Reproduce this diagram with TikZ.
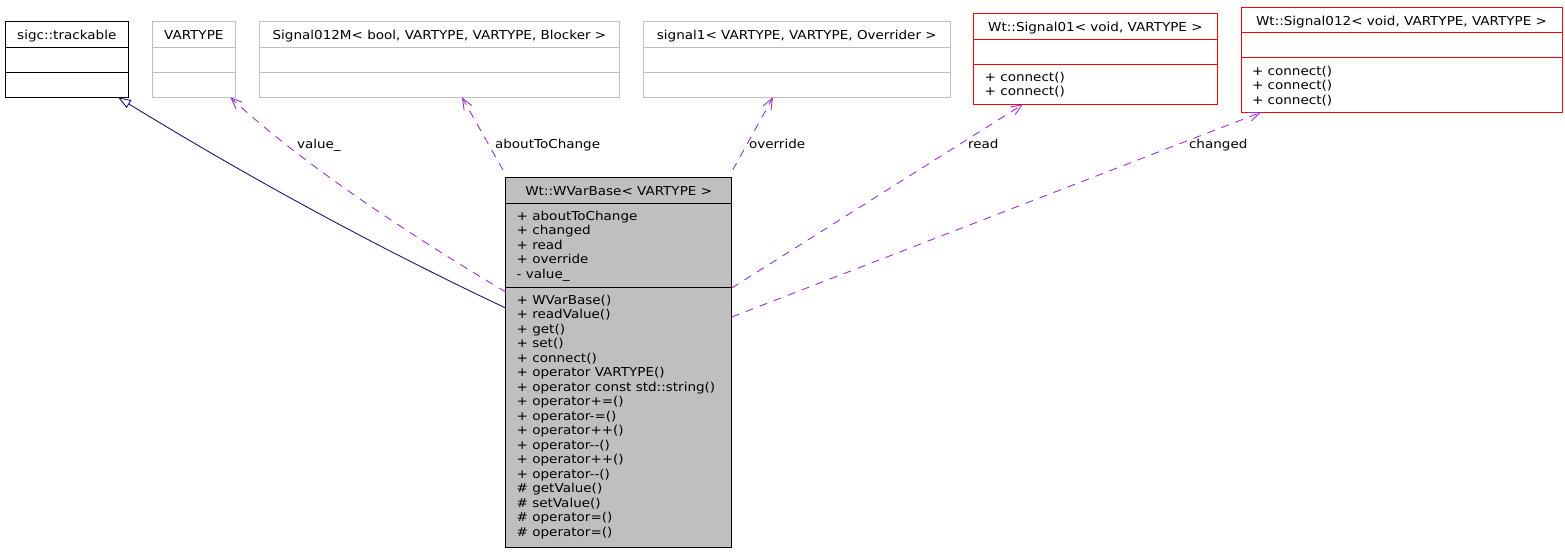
\documentclass[tikz,border=0pt]{standalone}
\usepackage{fontspec}
\setmainfont{DejaVu Sans}[FakeStretch=1.1]
\usetikzlibrary{arrows.meta}
\definecolor{boxgray}{HTML}{BFBFBF}
\definecolor{usecol}{HTML}{9A32CD}
\definecolor{inhcol}{HTML}{191970}
\newcommand\dm{-\kern0pt-}
\begin{document}
\begin{tikzpicture}[x=1pt,y=-1pt,
  every node/.style={font=\fontsize{12.3}{14.5}\selectfont, inner sep=0pt, outer sep=0pt},
  cls/.style={draw, line width=1pt, rectangle, anchor=north west, inner sep=0pt},
  ttl/.style={anchor=base},
  lbl/.style={anchor=base west},
  div/.style={line width=1pt},
  use/.style={draw=usecol, line width=0.9pt, dash pattern=on 8pt off 7pt,
    -{Straight Barb[length=11pt,width=9pt]}},
  inh/.style={draw=inhcol, line width=0.9pt,
    -{Triangle[open,length=13pt,width=9pt,fill=white]}}
]
\useasboundingbox[fill=white] (0,0) rectangle (1565,552);

% sigc::trackable
\node[cls, draw=black, minimum width=123pt, minimum height=75.6pt] (track) at (5.3,21.7) {};
\draw[div, black] (5.3,47.3) -- (128.3,47.3) (5.3,72.3) -- (128.3,72.3);
\node[ttl] (trackt) at (66.8,39.2) {sigc::trackable};

% VARTYPE
\node[cls, draw=boxgray, minimum width=83pt, minimum height=75.6pt] (vartype) at (152.3,21.7) {};
\draw[div, boxgray] (152.3,47.3) -- (235.3,47.3) (152.3,72.3) -- (235.3,72.3);
\node[ttl] (vartypet) at (193.8,39.2) {VARTYPE};

% Signal012M
\node[cls, draw=boxgray, minimum width=360.2pt, minimum height=75.6pt] (sigm) at (259.3,21.7) {};
\draw[div, boxgray] (259.3,47.3) -- (619.5,47.3) (259.3,72.3) -- (619.5,72.3);
\node[ttl] (sigmt) at (439.4,39.2) {Signal012M< bool, VARTYPE, VARTYPE, Blocker >};

% signal1
\node[cls, draw=boxgray, minimum width=306.5pt, minimum height=75.6pt] (sigone) at (643.5,21.7) {};
\draw[div, boxgray] (643.5,47.3) -- (950,47.3) (643.5,72.3) -- (950,72.3);
\node[ttl] (sigonet) at (796.8,39.2) {signal1< VARTYPE, VARTYPE, Overrider >};

% Wt::Signal01
\node[cls, draw=red, minimum width=243.3pt, minimum height=91pt] (sigzo) at (973.7,13.3) {};
\draw[div, red] (973.7,39.3) -- (1217,39.3) (973.7,64.3) -- (1217,64.3);
\node[ttl] (sigzot) at (1095.4,31) {Wt::Signal01< void, VARTYPE >};
\node[lbl] (sigzom) at (984.7,81) {\begin{tabular}[t]{@{}l@{}}+ connect()\\+ connect()\end{tabular}};

% Wt::Signal012
\node[cls, draw=red, minimum width=321pt, minimum height=105pt] (sigzot2) at (1241,7.3) {};
\draw[div, red] (1241,32.3) -- (1562,32.3) (1241,57.3) -- (1562,57.3);
\node[ttl] (sigzott) at (1401.5,25) {Wt::Signal012< void, VARTYPE, VARTYPE >};
\node[lbl] (sigzotm) at (1252,75) {\begin{tabular}[t]{@{}l@{}}+ connect()\\+ connect()\\+ connect()\end{tabular}};

% Wt::WVarBase
\node[cls, draw=black, fill=boxgray, minimum width=226pt, minimum height=370pt] (wvar) at (505.7,177) {};
\draw[div, black] (505.7,203) -- (731.7,203) (505.7,287) -- (731.7,287);
\node[ttl] (wvart) at (618.7,195) {Wt::WVarBase< VARTYPE >};
\node[lbl] (wvara) at (516.7,220) {\begin{tabular}[t]{@{}l@{}}+ aboutToChange\\+ changed\\+ read\\+ override\\- value\_\end{tabular}};
\node[lbl] (wvarm) at (516.7,304) {\begin{tabular}[t]{@{}l@{}}+ WVarBase()\\+ readValue()\\+ get()\\+ set()\\+ connect()\\+ operator VARTYPE()\\+ operator const std::string()\\+ operator+=()\\+ operator-=()\\+ operator++()\\+ operator\dm()\\+ operator++()\\+ operator\dm()\\\# getValue()\\\# setValue()\\\# operator=()\\\# operator=()\end{tabular}};

% connectors
\draw[inh] ([yshift=-131pt]wvar.north west) .. controls (372,245) and (243,174) .. ([xshift=112.7pt]track.south west);
\draw[use] ([yshift=-115pt]wvar.north west) .. controls (405,232) and (300,162) .. ([xshift=-5pt]vartype.south east);
\draw[use] ([shift={(-2.7pt,7pt)}]wvar.north west) -- ([xshift=202.7pt]sigm.south west);
\draw[use] ([shift={(1pt,7pt)}]wvar.north east) -- ([xshift=129.5pt]sigone.south west);
\draw[use] ([yshift=-111pt]wvar.north east) -- ([xshift=49.3pt]sigzo.south west);
\draw[use] ([yshift=-140pt]wvar.north east) -- ([xshift=20pt]sigzot2.south west);

% labels
\node[lbl] (lvalue) at (297,148) {value\_};
\node[lbl] (labout) at (495,148) {aboutToChange};
\node[lbl] (lover) at (749,148) {override};
\node[lbl] (lread) at (968,148) {read};
\node[lbl] (lchg) at (1189,148) {changed};
\end{tikzpicture}
\end{document}
